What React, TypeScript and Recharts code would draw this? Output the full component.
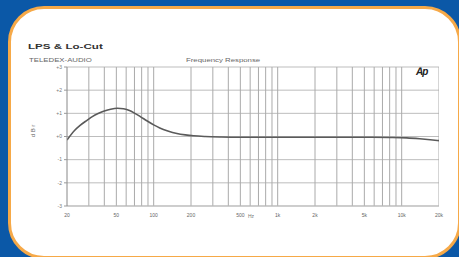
import { LineChart, Line, XAxis, YAxis, CartesianGrid, ReferenceLine } from 'recharts';

// frequency response (Hz, dB)
const freqs = [20, 23, 25.5, 29, 32, 36, 40, 45, 51, 57, 63, 70, 78, 88, 100, 112, 130, 154, 180, 210, 260, 350, 500, 1000, 2000, 5000, 8000, 11000, 14000, 17000, 20000];
const gains = [-0.15, 0.26, 0.48, 0.7, 0.86, 1.0, 1.1, 1.18, 1.22, 1.2, 1.13, 1.01, 0.86, 0.68, 0.5, 0.37, 0.24, 0.13, 0.07, 0.03, 0.0, -0.02, -0.03, -0.03, -0.03, -0.03, -0.04, -0.06, -0.1, -0.14, -0.18];

const xTicks = [20, 50, 100, 200, 500, 1000, 2000, 5000, 10000, 20000];
const xTickLabels = ['20', '50', '100', '200', '500', '1k', '2k', '5k', '10k', '20k'];
const yTicks = [-3, -2, -1, 0, 1, 2, 3];
const yTickLabels = ['-3', '-2', '-1', '+0', '+1', '+2', '+3'];

// log grid: 30..90, 100..900, 1k..9k, 10k, 20k
const gridFreqs = [
  30, 40, 50, 60, 70, 80, 90,
  100, 200, 300, 400, 500, 600, 700, 800, 900,
  1000, 2000, 3000, 4000, 5000, 6000, 7000, 8000, 9000,
  10000, 20000,
];

const data = freqs.map((f, i) => ({ f, db: gains[i] }));

const BLUE = '#0b58a7';
const ORANGE = '#f6a948';

export default function App() {
  return (
    <div
      style={{
        position: 'absolute',
        left: 0,
        top: 0,
        width: 459,
        height: 257,
        overflow: 'hidden',
        background: BLUE,
        fontFamily: 'Arial, "Liberation Sans", sans-serif',
      }}
    >
      {/* white card with orange edge */}
      <div
        style={{
          position: 'absolute',
          left: 8,
          top: 6,
          width: 453,
          height: 253,
          boxSizing: 'border-box',
          border: `3px solid ${ORANGE}`,
          borderRadius: 36,
          background: '#fff',
        }}
      />
      <div
        style={{
          position: 'absolute',
          left: 28,
          top: 42,
          fontSize: 8,
          fontWeight: 'bold',
          color: '#333',
          transform: 'scaleX(1.45)',
          transformOrigin: 'left center',
          whiteSpace: 'nowrap',
        }}
      >
        LPS &amp; Lo-Cut
      </div>
      <div
        style={{
          position: 'absolute',
          left: 29,
          top: 57,
          fontSize: 6,
          color: '#666',
          transform: 'scaleX(1.3)',
          transformOrigin: 'left center',
          whiteSpace: 'nowrap',
        }}
      >
        TELEDEX-AUDIO
      </div>
      <div
        style={{
          position: 'absolute',
          left: 186,
          top: 57,
          fontSize: 6,
          color: '#666',
          transform: 'scaleX(1.3)',
          transformOrigin: 'left center',
          whiteSpace: 'nowrap',
        }}
      >
        Frequency Response
      </div>
      <div
        style={{
          position: 'absolute',
          left: 416,
          top: 66,
          fontSize: 10,
          fontWeight: 'bold',
          fontStyle: 'italic',
          color: '#222',
          letterSpacing: -1,
        }}
      >
        Ap
      </div>
      <div
        style={{
          position: 'absolute',
          left: 27,
          top: 128,
          fontSize: 6,
          color: '#666',
          transform: 'rotate(-90deg)',
          whiteSpace: 'nowrap',
        }}
      >
        d B r
      </div>
      <div
        style={{
          position: 'absolute',
          left: 248,
          top: 213,
          fontSize: 5,
          color: '#777',
        }}
      >
        Hz
      </div>
      <div style={{ position: 'absolute', left: 0, top: 0 }}>
        <LineChart
          width={459}
          height={257}
          data={data}
          margin={{ top: 67, right: 20, bottom: 31, left: 37 }}
        >
          <CartesianGrid vertical={false} stroke="#bdbdbd" strokeWidth={1} />
          {gridFreqs.map((g) => (
            <ReferenceLine key={g} x={g} stroke="#aaaaaa" strokeWidth={1} ifOverflow="hidden" />
          ))}
          <XAxis
            dataKey="f"
            type="number"
            scale="log"
            domain={[20, 20000]}
            ticks={xTicks}
            allowDataOverflow
            tickFormatter={(v) => xTickLabels[xTicks.indexOf(v)] ?? ''}
            tick={{ fontSize: 5, fill: '#666' }}
            tickLine={false}
            axisLine={{ stroke: '#bdbdbd' }}
            height={20}
            tickMargin={1}
          />
          <YAxis
            type="number"
            domain={[-3, 3]}
            ticks={yTicks}
            tickFormatter={(v) => yTickLabels[yTicks.indexOf(v)] ?? ''}
            tick={{ fontSize: 5, fill: '#777' }}
            tickLine={{ stroke: '#999' }}
            tickSize={3}
            axisLine={{ stroke: '#888' }}
            width={30}
          />
          <Line
            type="monotone"
            dataKey="db"
            stroke="#5a5a5a"
            strokeWidth={1.6}
            dot={false}
            isAnimationActive={false}
          />
        </LineChart>
      </div>
    </div>
  );
}
